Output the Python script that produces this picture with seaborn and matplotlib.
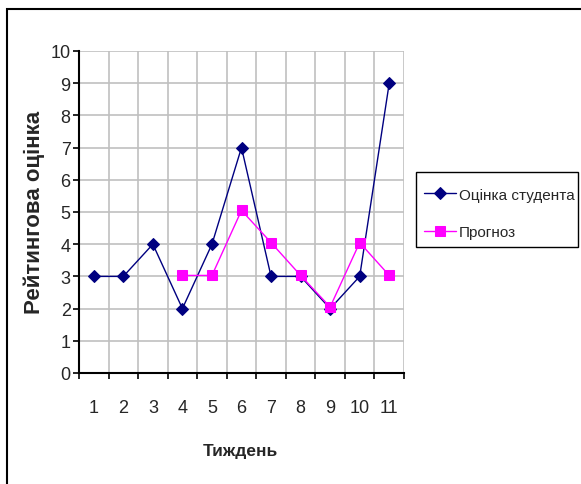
import pandas as pd
import matplotlib.pyplot as plt
import seaborn as sns
from matplotlib.patches import Rectangle

# Дані з графіка
weeks = list(range(1, 12))
student = [3, 3, 4, 2, 4, 7, 3, 3, 2, 3, 9]
forecast_weeks = [4, 5, 6, 7, 8, 9, 10, 11]
forecast = [3.03, 3.03, 5.05, 4.05, 3.03, 2.05, 4.05, 3.03]
y_ticks = list(range(0, 11))

sns.set_style("white")
plt.rcParams['font.family'] = ['Liberation Sans', 'DejaVu Sans']

W, H = 581, 485
fig = plt.figure(figsize=(W / 100, H / 100), dpi=100)
ax = fig.add_axes([79 / W, 1 - 374 / H, (404 - 79) / W, (374 - 52) / H])

df_s = pd.DataFrame({'week': weeks, 'val': student})
df_f = pd.DataFrame({'week': forecast_weeks, 'val': forecast})

sns.lineplot(data=df_s, x='week', y='val', ax=ax, color='#000080', marker='D',
             markersize=6, linewidth=1, markeredgecolor='#000080', label='Оцінка студента')
sns.lineplot(data=df_f, x='week', y='val', ax=ax, color='#FF00FF', marker='s',
             markersize=7, linewidth=1, markeredgecolor='#FF00FF', label='Прогноз')

ax.set_xlim(0.5, 11.5)
ax.set_ylim(0, 10)
ax.set_xticks(weeks)
ax.set_xticks([w + 0.5 for w in range(0, 12)], minor=True)
ax.set_yticks(y_ticks)
ax.tick_params(axis='x', which='major', length=0, pad=19, labelsize=13)
ax.tick_params(axis='x', which='minor', length=4, width=1.2, color='black', direction='out', bottom=True)
ax.tick_params(axis='y', which='major', length=4, width=1.2, color='black', direction='out', left=True, pad=2, labelsize=13)
ax.grid(False)
ax.grid(True, axis='x', which='minor', color='#c0c0c0', linewidth=1.2)
ax.grid(True, axis='y', which='major', color='#c0c0c0', linewidth=1.2)
ax.set_axisbelow(True)
for side in ['top', 'right']:
    ax.spines[side].set_visible(False)
for side in ['left', 'bottom']:
    ax.spines[side].set_color('black')
    ax.spines[side].set_linewidth(1.5)
ax.set_xlabel('')
ax.set_ylabel('')

fig.text(34 / W, 1 - 212 / H, 'Рейтингова оцінка', rotation=90, ha='center', va='center',
         fontsize=16, fontweight='bold')
fig.text(240 / W, 1 - 452 / H, 'Тиждень', ha='center', va='center',
         fontsize=12.5, fontweight='bold')

# легенда без власної рамки, рамку малюємо окремо
leg = ax.legend(loc='upper left', bbox_to_anchor=(416 / W, 1 - 181 / H), bbox_transform=fig.transFigure,
                frameon=False, fontsize=11,
                handlelength=2.1, handletextpad=0.2, labelspacing=1.55, borderaxespad=0, borderpad=0.5)
fig.add_artist(Rectangle((416 / W, 1 - 248 / H), (578 - 416) / W, (248 - 173) / H,
                         transform=fig.transFigure, fill=False, edgecolor='black', linewidth=1))

# рамка навколо діаграми
fig.add_artist(Rectangle((7 / W, -0.1), 1.2, 1 - 10 / H + 0.1, transform=fig.transFigure,
                         fill=False, edgecolor='black', linewidth=1.5, clip_on=False))

fig.savefig('out.png', dpi=100)
